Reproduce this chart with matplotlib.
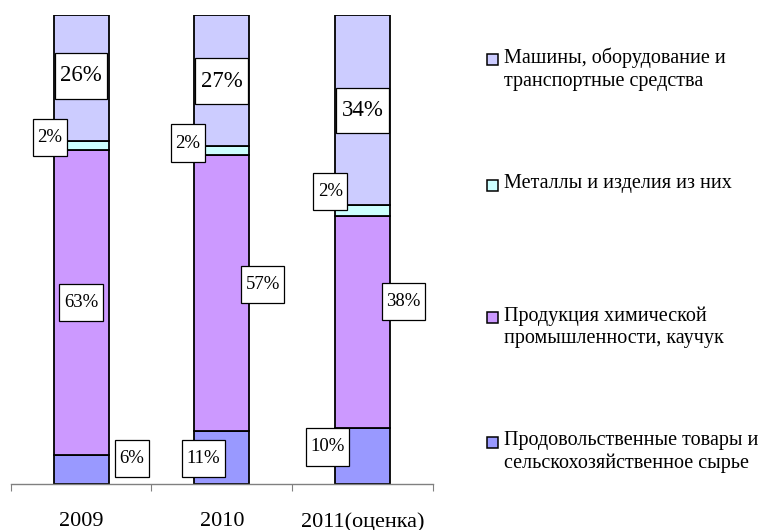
import matplotlib
matplotlib.use("Agg")
import matplotlib.pyplot as plt
from matplotlib.patches import Rectangle
from matplotlib.path import Path
import numpy as np

plt.rcParams['font.family'] = ['Liberation Serif', 'DejaVu Serif']

# ---- data ----
years = ["2009", "2010", "2011(оценка)"]
food = [6, 11, 10]
chem = [63, 57, 38]
metals = [2, 2, 2]
machines = [26, 27, 34]

series_names = [
    "Продовольственные товары и\nсельскохозяйственное сырье",
    "Продукция химической\nпромышленности, каучук",
    "Металлы и изделия из них",
    "Машины, оборудование и\nтранспортные средства",
]
series_vals = [food, chem, metals, machines]
colors = ["#9999FF", "#CC99FF", "#CCFFFF", "#CCCCFF"]

# label placement (offset from bar centre in category units, y in %), per series per year
label_dx = [
    [0.36, -0.13, -0.25],   # food
    [0.0, 0.29, 0.29],      # chem
    [-0.22, -0.24, -0.23],  # metals
    [0.0, 0.0, 0.0],        # machines
]
label_y = [
    [5.5, 5.5, 7.9],
    [38.7, 42.5, 38.9],
    [73.9, 72.7, 62.3],
    [87.0, 85.9, 79.7],
]
label_size = [13.5, 13.5, 13.5, 16.5]


def label_box(x0, y0, width, height, mutation_size):
    px = 0.24 * mutation_size
    hb = 1.98 * mutation_size
    yc = y0 + height / 2
    xa, xb = x0 - px, x0 + width + px
    ya, yb = yc - hb / 2, yc + hb / 2
    return Path([(xa, ya), (xb, ya), (xb, yb), (xa, yb), (xa, ya)], closed=True)


W, H = 768, 530
fig = plt.figure(figsize=(W / 100, H / 100), dpi=100)
ax = fig.add_axes([10.7 / W, (H - 484) / H, (433 - 10.7) / W, (484 - 15) / H])

x = np.arange(len(years))
vals = np.array(series_vals, dtype=float)
totals = vals.sum(axis=0)
shares = vals / totals * 100
bottom = np.zeros(len(years))
for i in range(len(series_vals)):
    ax.bar(x, shares[i], 0.39, bottom=bottom, color=colors[i],
           edgecolor="black", linewidth=1.3, zorder=2)
    bottom += shares[i]

for i in range(len(series_vals)):
    for j in range(len(years)):
        ax.text(x[j] + label_dx[i][j], label_y[i][j], f"{series_vals[i][j]}%",
                ha="center", va="center", fontsize=label_size[i], zorder=5,
                bbox=dict(boxstyle=label_box, facecolor="white",
                          edgecolor="black", linewidth=0.9))

ax.set_xlim(-0.5, len(years) - 0.5)
ax.set_ylim(0, 100)
for s in ["left", "right", "top"]:
    ax.spines[s].set_visible(False)
ax.spines["bottom"].set_color("#808080")
ax.spines["bottom"].set_linewidth(1.0)
ax.set_yticks([])
ax.set_xticks(np.arange(-0.5, len(years)), labels=[])
ax.tick_params(axis="x", which="major", length=5, color="#808080", direction="out")
ax.set_xticks(x, labels=years, minor=True)
ax.tick_params(axis="x", which="minor", length=0, pad=20, labelsize=16)

# legend (drawn manually, top to bottom)
leg_first_line_y = [59, 185, 317, 442]
order = [3, 2, 1, 0]
for k, i in enumerate(order):
    yc = leg_first_line_y[k]
    fig.patches.append(Rectangle((487 / W, (H - yc - 5.5) / H), 10.5 / W, 10.5 / H,
                                 transform=fig.transFigure, facecolor=colors[i],
                                 edgecolor="black", linewidth=1.1))
    fig.text(504 / W, (H - yc + 11) / H, series_names[i], ha="left", va="top",
             fontsize=14.5, linespacing=1.22)

fig.savefig("out.png", dpi=100)
